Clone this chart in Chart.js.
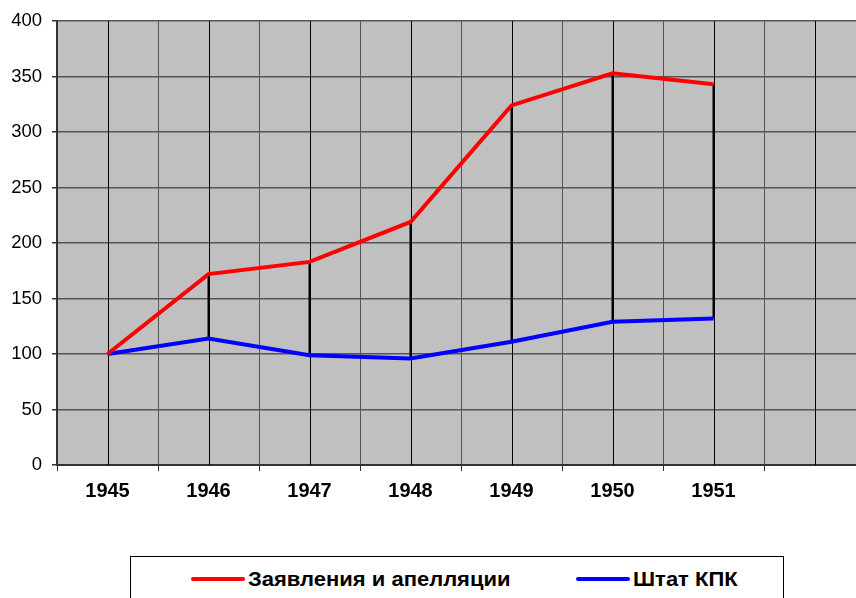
<!DOCTYPE html>
<html>
<head>
<meta charset="utf-8">
<script src="https://cdn.jsdelivr.net/npm/chart.js@4.4.1/dist/chart.umd.min.js"></script>
<style>
  html, body { margin: 0; padding: 0; background: #fff; overflow: hidden; }
  #wrap { position: relative; width: 856px; height: 598px; overflow: hidden; }
  #box { position: absolute; left: 0; top: 0; width: 870px; height: 540px; }
  #legend {
    position: absolute; left: 130px; top: 556px; width: 654px; height: 60px;
    border: 1px solid #000; box-sizing: border-box;
    font: bold 20px "Liberation Sans", Arial, sans-serif; color: #000;
  }
  .item { position: absolute; top: 10px; height: 24px; display: flex; align-items: center; white-space: nowrap; }
  .swatch { display: inline-block; width: 54px; height: 4px; border-radius: 2px; margin-right: 3px; }
  .txt { display: inline-block; transform: scaleX(1.1); transform-origin: left center; }
</style>
</head>
<body>
<div id="wrap">
  <div id="box"><canvas id="chart"></canvas></div>
  <div id="legend"></div>
</div>
<script>
// ── DATA ──
const years = ['1945', '1946', '1947', '1948', '1949', '1950', '1951', ''];
const appeals = [100, 172, 183, 219, 324, 353, 343, null];
const staff   = [100, 114,  99,  96, 111, 129, 132, null];
const seriesNames  = ['Заявления и апелляции', 'Штат КПК'];
const seriesColors = ['#ff0000', '#0000ff'];
const yTicks = [0, 50, 100, 150, 200, 250, 300, 350, 400];

// ── PLOT BACKGROUND + CENTER GRID + DROP LINES ──
const plotDecor = {
  id: 'plotDecor',
  beforeDraw(chart) {
    const { ctx, chartArea: a } = chart;
    ctx.save();
    ctx.fillStyle = '#c0c0c0';
    ctx.fillRect(a.left, a.top, a.right - a.left, a.bottom - a.top);
    ctx.restore();
  },
  beforeDatasetsDraw(chart) {
    const { ctx, chartArea: a, scales: { x } } = chart;
    ctx.save();
    // gridlines through each category centre
    ctx.strokeStyle = '#000';
    ctx.lineWidth = 1;
    years.forEach((_, i) => {
      const px = Math.round(x.getPixelForValue(i)) + 0.5;
      ctx.beginPath(); ctx.moveTo(px, a.top); ctx.lineTo(px, a.bottom); ctx.stroke();
    });
    // drop lines between the two series
    const m0 = chart.getDatasetMeta(0), m1 = chart.getDatasetMeta(1);
    ctx.lineWidth = 2;
    appeals.forEach((v, i) => {
      if (v == null || staff[i] == null) return;
      const p0 = m0.data[i], p1 = m1.data[i];
      ctx.beginPath(); ctx.moveTo(p0.x, p0.y); ctx.lineTo(p1.x, p1.y); ctx.stroke();
    });
    ctx.restore();
  }
};

const datasets = [appeals, staff].map((d, i) => ({
  label: seriesNames[i],
  data: d,
  borderColor: seriesColors[i],
  backgroundColor: seriesColors[i],
  borderWidth: 4,
  pointRadius: 0,
  tension: 0,
  spanGaps: false
}));

new Chart(document.getElementById('chart'), {
  type: 'line',
  data: { labels: years, datasets },
  plugins: [plotDecor],
  options: {
    responsive: true,
    maintainAspectRatio: false,
    animation: false,
    layout: { padding: { top: 21, right: 5, bottom: 0, left: 0 } },
    plugins: { legend: { display: false }, tooltip: { enabled: false } },
    scales: {
      x: {
        offset: true,
        afterFit: s => { s.height = 75; },
        grid: { offset: true, color: '#555', lineWidth: 1, tickLength: 6, tickColor: '#333' },
        border: { color: '#333', width: 2 },
        ticks: {
          color: '#000', padding: 8, maxRotation: 0, autoSkip: false,
          font: { family: '"Liberation Sans", Arial, sans-serif', size: 20, weight: 'bold' }
        }
      },
      y: {
        min: 0, max: 400,
        afterFit: s => { s.width = 57; },
        afterBuildTicks: s => { s.ticks = yTicks.map(v => ({ value: v })); },
        grid: { color: '#555', lineWidth: 1.5, tickLength: 5, tickColor: '#333' },
        border: { color: '#333', width: 2 },
        ticks: {
          color: '#000', padding: 10,
          font: { family: '"Liberation Sans", Arial, sans-serif', size: 18.5 }
        }
      }
    }
  }
});

// ── LEGEND ──
const legend = document.getElementById('legend');
const legendX = [60, 445];
seriesNames.forEach((name, i) => {
  const it = document.createElement('div');
  it.className = 'item';
  it.style.left = legendX[i] + 'px';
  it.innerHTML = `<span class="swatch" style="background:${seriesColors[i]}"></span><span class="txt">${name}</span>`;
  legend.appendChild(it);
});
</script>
</body>
</html>
